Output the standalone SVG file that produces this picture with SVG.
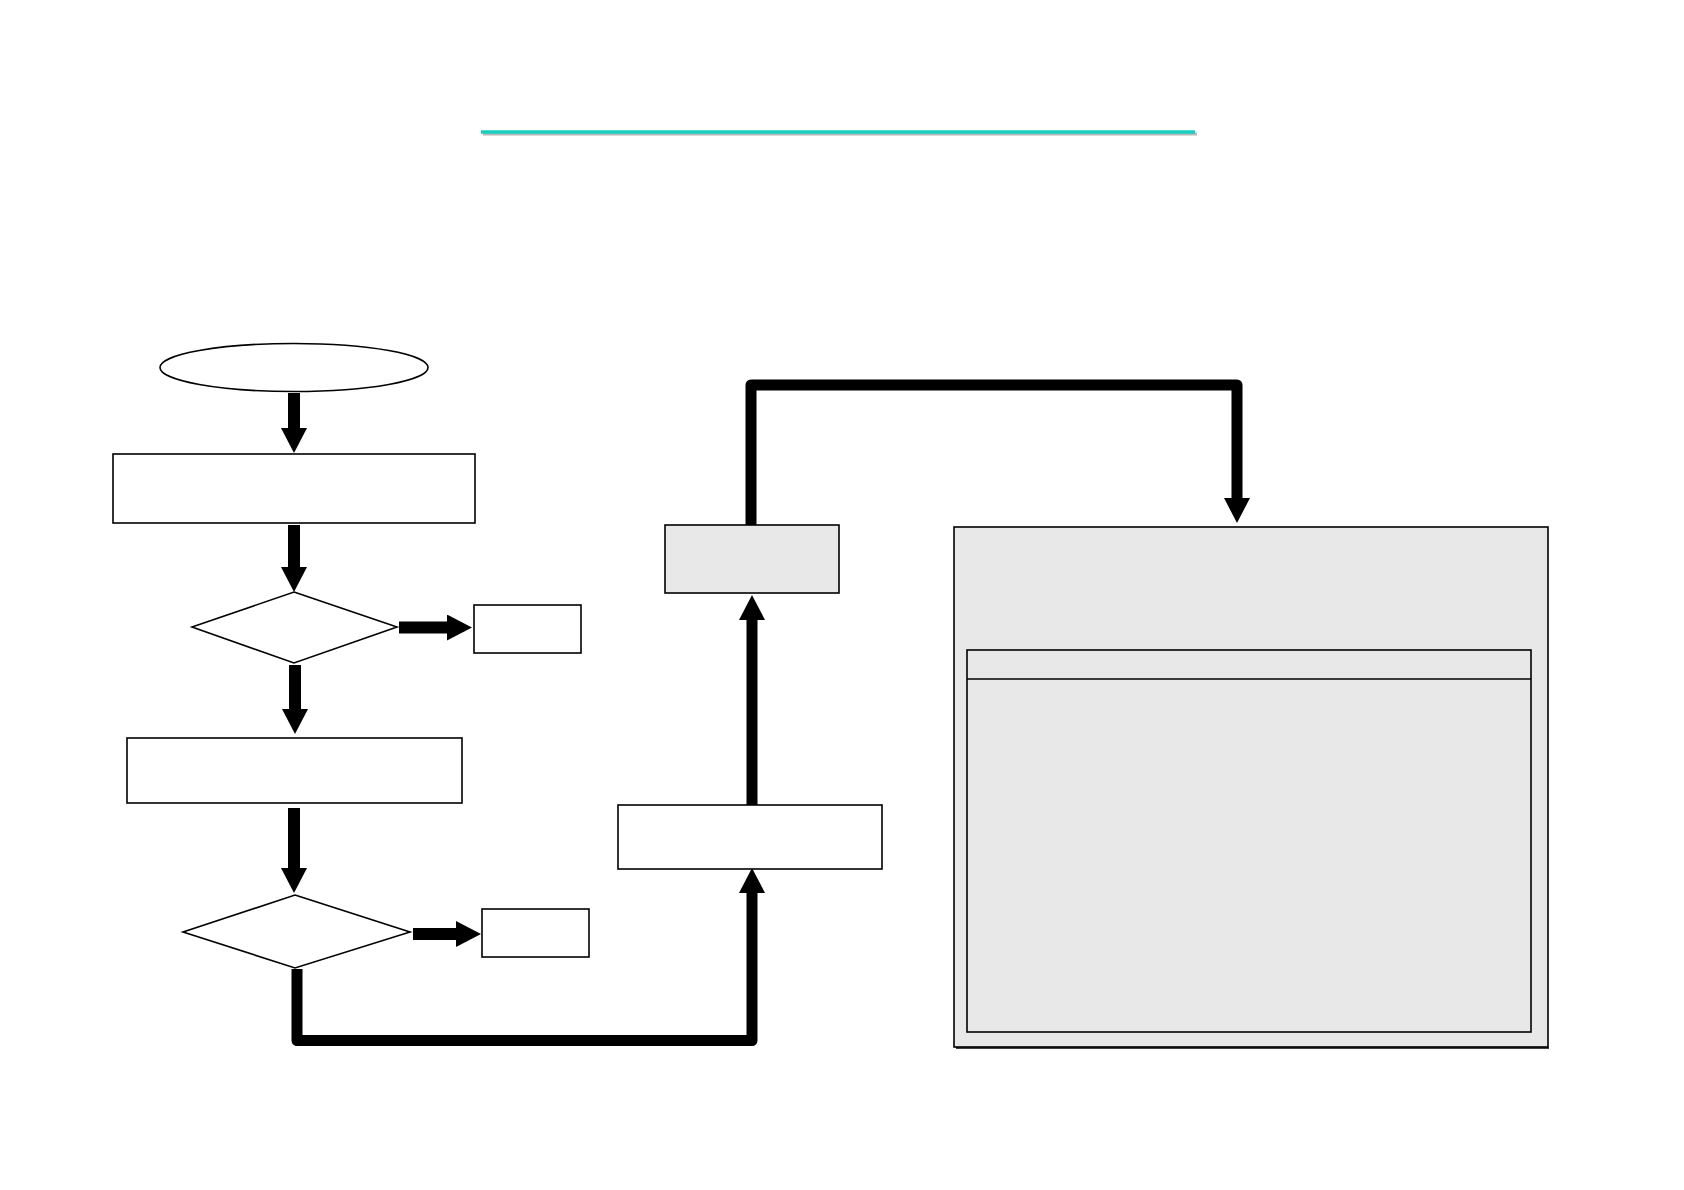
<svg xmlns="http://www.w3.org/2000/svg" width="1684" height="1190" viewBox="0 0 1684 1190">
<style>
.node{fill:#ffffff;stroke:#000000;stroke-width:1.6}
.grey{fill:#e8e8e8;stroke:#000000;stroke-width:1.6}
.conn{fill:none;stroke:#000000;stroke-linejoin:round;stroke-linecap:butt}
.thin{stroke-width:12}
.thick{stroke-width:11}
</style>
<defs>
<marker id="ah" viewBox="0 -13 25 26" refX="0" refY="0" markerWidth="25" markerHeight="26" markerUnits="userSpaceOnUse" orient="auto">
<path d="M0,-13 L25,0 L0,13 z" fill="#000000"/>
</marker>
</defs>
<rect width="1684" height="1190" fill="#ffffff"/>
<g id="title-rule">
<line x1="483" y1="134" x2="1197" y2="134" stroke="#b8b8b8" stroke-width="3"/>
<line x1="481" y1="132" x2="1195" y2="132" stroke="#17cfc0" stroke-width="3.5"/>
</g>
<g id="start"><ellipse class="node" cx="294" cy="367.5" rx="134" ry="24"/></g>
<g id="step1"><rect class="node" x="113" y="454" width="362" height="69"/></g>
<g id="decision1"><polygon class="node" points="294,592 397,627 294,663 192,627"/></g>
<g id="exit1"><rect class="node" x="474" y="605" width="107" height="48"/></g>
<g id="step2"><rect class="node" x="127" y="738" width="335" height="65"/></g>
<g id="decision2"><polygon class="node" points="295,895 410,932 295,968 183,932"/></g>
<g id="exit2"><rect class="node" x="482" y="909" width="107" height="48"/></g>
<g id="step3"><rect class="node" x="618" y="805" width="264" height="64"/></g>
<g id="step4"><rect class="grey" x="665" y="525" width="174" height="68"/></g>
<g id="panel">
<rect class="grey" x="954" y="527" width="594" height="520"/>
<line x1="956" y1="1048" x2="1549" y2="1048" stroke="#000" stroke-width="1.5"/>
<rect class="grey" x="967" y="650" width="564" height="382"/>
<line x1="967" y1="679" x2="1531" y2="679" stroke="#000" stroke-width="1.6"/>
</g>
<g id="connectors">
<path class="conn thin" d="M294,393 V428" marker-end="url(#ah)"/>
<path class="conn thin" d="M294,525 V567" marker-end="url(#ah)"/>
<path class="conn thin" d="M295,665 V709" marker-end="url(#ah)"/>
<path class="conn thin" d="M294,808 V868" marker-end="url(#ah)"/>
<path class="conn thin" d="M399,627.5 H447" marker-end="url(#ah)"/>
<path class="conn thin" d="M413,934 H456" marker-end="url(#ah)"/>
<path class="conn thick" d="M297,969 V1040.5 H752 V893" marker-end="url(#ah)"/>
<path class="conn thick" d="M752,805 V620" marker-end="url(#ah)"/>
<path class="conn thick" d="M751,525 V385 H1237 V498" marker-end="url(#ah)"/>
</g>
</svg>
